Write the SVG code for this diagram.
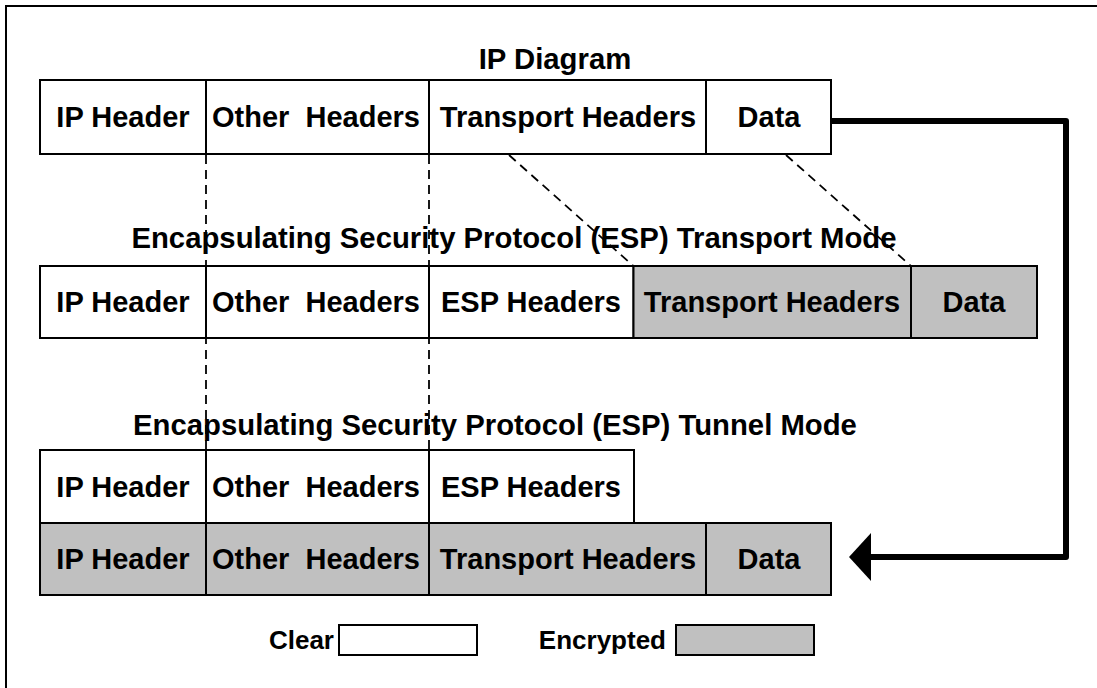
<svg xmlns="http://www.w3.org/2000/svg" width="1097" height="688" viewBox="0 0 1097 688">
<style>
.bg{fill:#fff}
.frame{fill:none;stroke:#000;stroke-width:2}
.c{fill:#fff;stroke:#000;stroke-width:2}
.e{fill:#c0c0c0;stroke:#000;stroke-width:2}
.t{font-family:"Liberation Sans",Arial,sans-serif;font-weight:bold;font-size:29px;fill:#000;text-anchor:middle;white-space:pre}
.ttl{font-family:"Liberation Sans",Arial,sans-serif;font-weight:bold;font-size:29.3px;fill:#000;text-anchor:middle}
.lg{font-family:"Liberation Sans",Arial,sans-serif;font-weight:bold;font-size:26px;fill:#000;text-anchor:end}
.dash{fill:none;stroke:#000;stroke-width:1.8;stroke-dasharray:9 6}
.thick{fill:none;stroke:#000;stroke-width:6;stroke-linejoin:round}
</style>
<defs>
<marker id="ah" markerUnits="userSpaceOnUse" markerWidth="22" markerHeight="48" viewBox="0 0 22 48" refX="0" refY="24" orient="auto">
<path d="M0,0 L22,24 L0,48 Z" fill="#000"/>
</marker>
</defs>
<rect class="bg" x="0" y="0" width="1097" height="688"/>
<rect class="frame" x="6" y="6" width="1200" height="800"/>

<g id="titles">
<text class="ttl" x="555" y="69">IP Diagram</text>
<text class="ttl" x="514" y="248">Encapsulating Security Protocol (ESP) Transport Mode</text>
<text class="ttl" x="495" y="435">Encapsulating Security Protocol (ESP) Tunnel Mode</text>
</g>

<g id="connectors">
<line class="dash" x1="206" y1="155" x2="206" y2="450"/>
<line class="dash" x1="429" y1="155" x2="429" y2="450"/>
<line class="dash" x1="509" y1="155" x2="633.5" y2="266"/>
<line class="dash" x1="786" y1="155" x2="911" y2="266"/>
<polyline class="thick" points="831,121 1066,121 1066,557 871,557" marker-end="url(#ah)"/>
</g>

<g id="ip-ipheader"><rect class="c" x="40" y="80" width="166" height="74"/><text class="t" x="123" y="127">IP Header</text></g>
<g id="ip-other"><rect class="c" x="206" y="80" width="223" height="74"/><text class="t" x="316" y="127">Other  Headers</text></g>
<g id="ip-transport"><rect class="c" x="429" y="80" width="277" height="74"/><text class="t" x="568" y="127">Transport Headers</text></g>
<g id="ip-data"><rect class="c" x="706" y="80" width="125" height="74"/><text class="t" x="769" y="127">Data</text></g>

<g id="tr-ipheader"><rect class="c" x="40" y="266" width="166" height="72"/><text class="t" x="123" y="312">IP Header</text></g>
<g id="tr-other"><rect class="c" x="206" y="266" width="223" height="72"/><text class="t" x="316" y="312">Other  Headers</text></g>
<g id="tr-esp"><rect class="c" x="429" y="266" width="204.5" height="72"/><text class="t" x="531" y="312">ESP Headers</text></g>
<g id="tr-transport"><rect class="e" x="633.5" y="266" width="277.5" height="72"/><text class="t" x="772" y="312">Transport Headers</text></g>
<g id="tr-data"><rect class="e" x="911" y="266" width="126" height="72"/><text class="t" x="974" y="312">Data</text></g>

<g id="tu-ipheader"><rect class="c" x="40" y="450" width="166" height="73"/><text class="t" x="123" y="497">IP Header</text></g>
<g id="tu-other"><rect class="c" x="206" y="450" width="223" height="73"/><text class="t" x="316" y="497">Other  Headers</text></g>
<g id="tu-esp"><rect class="c" x="429" y="450" width="205" height="73"/><text class="t" x="531" y="497">ESP Headers</text></g>

<g id="tu-ipheader2"><rect class="e" x="40" y="523" width="166" height="72"/><text class="t" x="123" y="569">IP Header</text></g>
<g id="tu-other2"><rect class="e" x="206" y="523" width="223" height="72"/><text class="t" x="316" y="569">Other  Headers</text></g>
<g id="tu-transport"><rect class="e" x="429" y="523" width="277" height="72"/><text class="t" x="568" y="569">Transport Headers</text></g>
<g id="tu-data"><rect class="e" x="706" y="523" width="125" height="72"/><text class="t" x="769" y="569">Data</text></g>

<g id="legend-clear"><text class="lg" x="334" y="649">Clear</text><rect class="c" x="339" y="625" width="138" height="30"/></g>
<g id="legend-encrypted"><text class="lg" x="666" y="649">Encrypted</text><rect class="e" x="676" y="625" width="138" height="30"/></g>
</svg>
